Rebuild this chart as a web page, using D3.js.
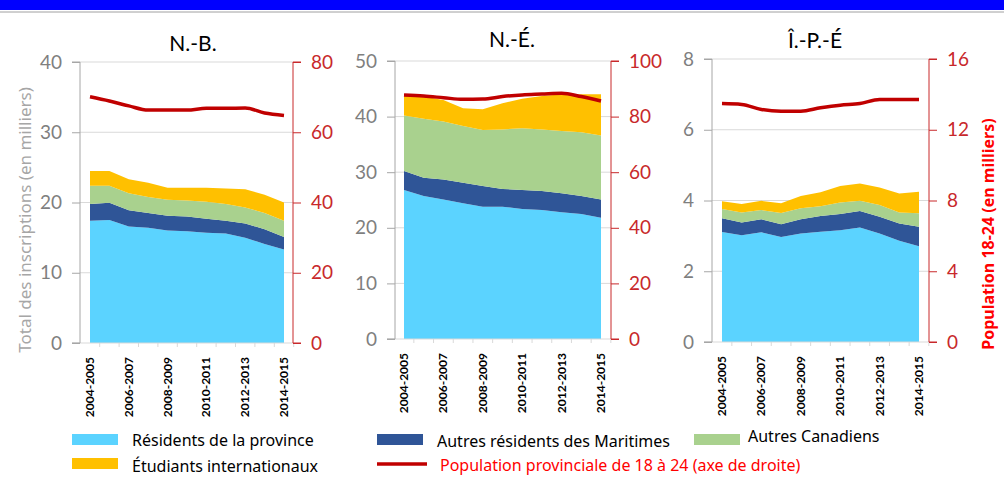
<!DOCTYPE html>
<html>
<head>
<meta charset="utf-8">
<script src="https://cdn.jsdelivr.net/npm/d3@7"></script>
<style>
  body { margin: 0; background: #fff; }
  svg { display: block; font-family: Lato, "Open Sans", sans-serif; }
</style>
</head>
<body>
<svg width="1004" height="483"></svg>
<script>
// years on x axis
const years = ['2004-2005','2005-2006','2006-2007','2007-2008','2008-2009','2009-2010',
               '2010-2011','2011-2012','2012-2013','2013-2014','2014-2015'];
const keys = ['res', 'mar', 'can', 'intl'];

// N.-B. (thousands)
const nbRes  = [17.4,17.5,16.6,16.4,16.0,15.9,15.7,15.6,15.0,14.1,13.3];
const nbMar  = [2.4,2.45,2.3,2.1,2.1,2.1,2.0,1.8,2.0,2.1,1.8];
const nbCan  = [2.6,2.45,2.4,2.3,2.3,2.3,2.4,2.4,2.3,2.3,2.3];
const nbIntl = [2.1,2.1,2.0,2.0,1.7,1.8,2.0,2.2,2.6,2.6,2.6];
const nbPop  = [70.1,68.9,67.5,66.3,66.3,66.3,66.8,66.8,66.9,65.5,64.8];

// N.-É.
const neRes  = [26.8,25.7,25.1,24.4,23.8,23.8,23.4,23.2,22.8,22.5,21.8];
const neMar  = [3.4,3.3,3.6,3.7,3.7,3.2,3.4,3.4,3.4,3.2,3.3];
const neCan  = [10.0,10.6,10.4,10.2,10.1,10.7,11.1,11.1,11.2,11.5,11.5];
const neIntl = [3.7,4.0,3.9,3.2,3.7,4.7,5.3,6.0,6.6,6.8,7.4];
const nePop  = [87.8,87.4,86.8,86.2,86.3,87.2,87.8,88.1,88.4,87.2,85.6];

// Î.-P.-É
const peRes  = [3.11,3.02,3.10,2.97,3.07,3.12,3.16,3.24,3.07,2.86,2.71];
const peMar  = [0.39,0.36,0.37,0.36,0.40,0.44,0.46,0.46,0.47,0.49,0.55];
const peCan  = [0.26,0.28,0.26,0.32,0.31,0.28,0.32,0.29,0.33,0.31,0.38];
const peIntl = [0.22,0.24,0.26,0.27,0.35,0.39,0.47,0.49,0.50,0.54,0.61];
const pePop  = [13.48,13.43,13.15,13.05,13.05,13.24,13.39,13.48,13.71,13.71,13.71];

const titles = ['N.-B.', 'N.-É.', 'Î.-P.-É'];
const leftTicks  = [[0,10,20,30,40], [0,10,20,30,40,50], [0,2,4,6,8]];
const rightTicks = [[0,20,40,60,80], [0,20,40,60,80,100], [0,4,8,12,16]];
const xLabels = ['2004-2005','2006-2007','2008-2009','2010-2011','2012-2013','2014-2015'];

const colors = { res: '#5BD3FF', mar: '#2F5597', can: '#A9D18E', intl: '#FFC000' };
const popColor = '#C00000';

function rows(res, mar, can, intl) {
  return years.map((y, i) => ({ year: y, res: res[i], mar: mar[i], can: can[i], intl: intl[i] }));
}
const panels = [
  { data: rows(nbRes, nbMar, nbCan, nbIntl), pop: nbPop,
    axL: 80, axR: 293, x0: 90, x1: 284, y0: 343, y1: 62, tx: 193, ty: 51 },
  { data: rows(neRes, neMar, neCan, neIntl), pop: nePop,
    axL: 395, axR: 611, x0: 404, x1: 601, y0: 339, y1: 61, tx: 512, ty: 47 },
  { data: rows(peRes, peMar, peCan, peIntl), pop: pePop,
    axL: 712, axR: 929, x0: 722, x1: 919, y0: 342, y1: 59, tx: 815, ty: 48 }
];

const svg = d3.select('svg');

// top banner
svg.append('rect').attr('x', 0).attr('y', 0).attr('width', 1004).attr('height', 10).attr('fill', '#0000FF');
svg.append('line').attr('x1', 0).attr('x2', 1004).attr('y1', 12).attr('y2', 12)
  .style('stroke', '#A0A0A0').style('stroke-width', 1);

panels.forEach((p, k) => {
  const g = svg.append('g');
  const lt = leftTicks[k], rt = rightTicks[k];
  const x = d3.scalePoint().domain(years).range([p.x0, p.x1]);
  const yL = d3.scaleLinear().domain([0, lt[lt.length - 1]]).range([p.y0, p.y1]);
  const yR = d3.scaleLinear().domain([0, rt[rt.length - 1]]).range([p.y0, p.y1]);

  // gridlines
  g.selectAll('.grid').data(lt.slice(1)).enter().append('line')
    .attr('x1', p.axL).attr('x2', p.axR)
    .attr('y1', d => yL(d)).attr('y2', d => yL(d))
    .style('stroke', '#D9D9D9').style('stroke-width', 1);

  // stacked areas
  const series = d3.stack().keys(keys)(p.data);
  const area = d3.area()
    .x(d => x(d.data.year))
    .y0(d => yL(d[0]))
    .y1(d => yL(d[1]));
  g.selectAll('.area').data(series).enter().append('path')
    .attr('d', area)
    .attr('fill', d => colors[d.key]);

  // x axis baseline
  g.append('line').attr('x1', p.axL - 8).attr('x2', p.axR).attr('y1', p.y0).attr('y2', p.y0)
    .style('stroke', '#D9D9D9').style('stroke-width', 1);
  g.selectAll('.xt').data(years).enter().append('line')
    .attr('x1', d => x(d) + (p.x1 - p.x0) / 20).attr('x2', d => x(d) + (p.x1 - p.x0) / 20)
    .attr('y1', p.y0).attr('y2', p.y0 + 4)
    .style('stroke', '#D9D9D9');

  // left axis
  const axL = d3.axisLeft(yL).tickValues(lt).tickSize(8).tickPadding(10);
  const gl = g.append('g').attr('transform', `translate(${p.axL},0)`).call(axL);
  gl.select('.domain').attr('d', `M-8,${p.y0}H0V${p.y1}H-8`).style('stroke', '#A6A6A6');
  gl.selectAll('.tick line').style('stroke', '#A6A6A6');
  gl.selectAll('.tick text').style('font-size', '19px').style('fill', '#7F7F7F')
    .style('font-family', 'Lato, sans-serif');

  // right axis
  const axR = d3.axisRight(yR).tickValues(rt).tickSize(8).tickPadding(10);
  const gr = g.append('g').attr('transform', `translate(${p.axR},0)`).call(axR);
  gr.select('.domain').attr('d', `M8,${p.y0}H0V${p.y1}H8`).style('stroke', '#C8282B');
  gr.selectAll('.tick line').style('stroke', '#C8282B');
  gr.selectAll('.tick text').style('font-size', '19px').style('fill', '#C8282B')
    .style('font-family', 'Lato, sans-serif');

  // population line
  const line = d3.line().x((d, i) => x(years[i])).y(d => yR(d)).curve(d3.curveMonotoneX);
  g.append('path').datum(p.pop).attr('d', line)
    .attr('fill', 'none').style('stroke', popColor).style('stroke-width', 3.5);

  // x labels
  g.selectAll('.xl').data(xLabels).enter().append('text')
    .attr('transform', d => `translate(${x(d) + 4},${p.y0 + 14}) rotate(-90)`)
    .attr('text-anchor', 'end')
    .style('font-size', '12px').style('font-weight', 'bold').style('fill', '#000')
    .text(d => d);

  // title
  g.append('text').attr('x', p.tx).attr('y', p.ty).attr('text-anchor', 'middle')
    .style('font-size', '21px').style('fill', '#000').text(titles[k]);
});

// axis titles
svg.append('text')
  .attr('transform', 'translate(31,220) rotate(-90)')
  .attr('text-anchor', 'middle')
  .style('font-family', '"Noto Sans", sans-serif')
  .style('font-size', '17px').style('fill', '#A6A6A6')
  .text('Total des inscriptions (en milliers)');
svg.append('text')
  .attr('transform', 'translate(994,234) rotate(-90)')
  .attr('text-anchor', 'middle')
  .style('font-family', '"Noto Sans", sans-serif')
  .style('font-size', '16px').style('font-weight', 'bold').style('fill', '#FF0000')
  .text('Population 18-24 (en milliers)');

// legend
const legendItems = [
  { label: 'Résidents de la province', color: colors.res, x: 72, y: 434, tx: 132, ty: 446 },
  { label: 'Autres résidents des Maritimes', color: colors.mar, x: 377, y: 434, tx: 437, ty: 447 },
  { label: 'Autres Canadiens', color: colors.can, x: 694, y: 434, tx: 748, ty: 442 },
  { label: 'Étudiants internationaux', color: colors.intl, x: 72, y: 458, tx: 132, ty: 472 }
];
const lg = svg.append('g').style('font-family', '"Noto Sans", sans-serif');
legendItems.forEach(d => {
  lg.append('rect').attr('x', d.x).attr('y', d.y).attr('width', 46).attr('height', 11).attr('fill', d.color);
  lg.append('text').attr('x', d.tx).attr('y', d.ty)
    .style('font-size', '16px').style('fill', '#000').text(d.label);
});
lg.append('line').attr('x1', 377).attr('x2', 427).attr('y1', 464).attr('y2', 464)
  .style('stroke', popColor).style('stroke-width', 3.5);
lg.append('text').attr('x', 440).attr('y', 471)
  .style('font-size', '16px').style('fill', '#FF0000')
  .text('Population provinciale de 18 à 24 (axe de droite)');
</script>
</body>
</html>
